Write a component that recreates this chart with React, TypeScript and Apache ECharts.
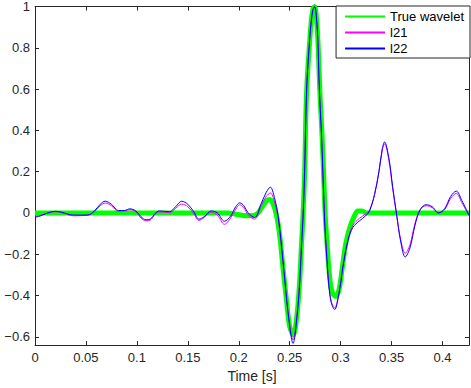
import React, { useEffect, useRef } from "react";
import * as echarts from "echarts";

// ---- Data ----
const xTicks = [0, 0.05, 0.1, 0.15, 0.2, 0.25, 0.3, 0.35, 0.4];
const yTicks = [-0.6, -0.4, -0.2, 0, 0.2, 0.4, 0.6, 0.8, 1];

const trueTimes = [
  0, 0.19, 0.196, 0.204, 0.212, 0.218, 0.223, 0.2275, 0.2305, 0.234, 0.237, 0.24,
  0.2435, 0.247, 0.25, 0.2535, 0.257, 0.2598, 0.2614, 0.263, 0.2647, 0.2657, 0.267,
  0.2696, 0.2712, 0.273, 0.2745, 0.2765, 0.278, 0.2795, 0.282, 0.2836, 0.285, 0.287,
  0.289, 0.2915, 0.295, 0.2985, 0.3015, 0.305, 0.309, 0.313, 0.317, 0.321, 0.325, 0.426,
];
const trueValues = [
  0, 0, -0.005, -0.012, -0.014, -0.005, 0.03, 0.06, 0.065, 0.04, -0.01, -0.1,
  -0.27, -0.43, -0.55, -0.59, -0.5, -0.33, -0.17, -0.02, 0.2, 0.44, 0.63,
  0.83, 0.93, 0.99, 1.0, 0.93, 0.8, 0.6, 0.35, 0.15, -0.02, -0.17,
  -0.3, -0.38, -0.405, -0.37, -0.27, -0.15, -0.07, -0.02, 0.01, 0.01, 0, 0,
];

const estTimes = [
  0.0, 0.005, 0.01, 0.015, 0.02, 0.026, 0.032, 0.038, 0.045, 0.052, 0.058, 0.064,
  0.069, 0.075, 0.082, 0.088, 0.093, 0.099, 0.104, 0.109, 0.113, 0.118, 0.122,
  0.127, 0.132, 0.138, 0.144, 0.15, 0.156, 0.161, 0.166, 0.173, 0.179, 0.186,
  0.192, 0.197, 0.201, 0.205, 0.209, 0.2155, 0.222, 0.227, 0.231, 0.235, 0.2385,
  0.242, 0.2455, 0.249, 0.2533, 0.2572, 0.2598, 0.2614, 0.263, 0.2645, 0.2657,
  0.267, 0.2696, 0.2712, 0.2728, 0.2745, 0.2762, 0.2777, 0.2788, 0.28, 0.2811,
  0.2822, 0.2833, 0.2846, 0.2866, 0.2885, 0.2909, 0.2941, 0.2984, 0.3013, 0.3033,
  0.3072, 0.312, 0.3186, 0.3245, 0.3284, 0.3333, 0.3376, 0.3409, 0.3431, 0.3474,
  0.351, 0.355, 0.359, 0.3634, 0.368, 0.373, 0.378, 0.384, 0.39, 0.396, 0.402,
  0.408, 0.4135, 0.419, 0.426,
];

const l21Values = [
  -0.015, -0.012, -0.004, 0.003, 0.006, 0.002, -0.008, -0.014, -0.013, -0.01, 0.005, 0.035,
  0.048, 0.035, 0.008, 0.01, 0.016, 0.005, -0.025, -0.038, -0.035, -0.006, 0.005,
  0.003, 0.002, 0.022, 0.043, 0.03, -0.005, -0.036, -0.022, 0.004, -0.01, -0.055,
  -0.025, 0.018, 0.04, 0.025, -0.008, -0.03, 0.035, 0.08, 0.097, 0.055, -0.02,
  -0.17, -0.34, -0.5, -0.615, -0.49, -0.33, -0.17, -0.02, 0.18, 0.44,
  0.64, 0.84, 0.93, 0.985, 0.995, 0.95, 0.83, 0.65, 0.51, 0.4,
  0.26, 0.1, -0.06, -0.22, -0.35, -0.43, -0.46, -0.385, -0.29, -0.225,
  -0.128, -0.06, -0.025, -0.005, 0.015, 0.09, 0.2, 0.305, 0.335, 0.255,
  0.12, -0.01, -0.13, -0.195, -0.155, -0.05, 0.015, 0.035, 0.025, 0.0, 0.015,
  0.07, 0.095, 0.05, -0.015,
];

const l22Values = [
  -0.02, -0.015, -0.004, 0.004, 0.008, 0.004, -0.005, -0.01, -0.01, -0.01, 0.008, 0.042,
  0.057, 0.042, 0.012, 0.012, 0.02, 0.01, -0.018, -0.033, -0.03, -0.002, 0.01,
  0.008, 0.006, 0.03, 0.057, 0.042, 0.005, -0.03, -0.018, 0.01, 0.0, -0.04,
  -0.015, 0.03, 0.049, 0.035, 0.002, -0.022, 0.045, 0.1, 0.125, 0.075, -0.01,
  -0.16, -0.34, -0.51, -0.632, -0.5, -0.34, -0.18, -0.03, 0.17, 0.43,
  0.64, 0.84, 0.93, 0.985, 1.0, 0.95, 0.83, 0.64, 0.5, 0.39,
  0.25, 0.09, -0.07, -0.23, -0.357, -0.436, -0.468, -0.39, -0.293, -0.23,
  -0.134, -0.07, -0.038, -0.014, 0.01, 0.089, 0.2, 0.312, 0.344, 0.264,
  0.13, -0.01, -0.14, -0.213, -0.17, -0.06, 0.015, 0.04, 0.03, 0.0, 0.02,
  0.08, 0.106, 0.06, -0.01,
];

const seriesNames = ["True wavelet", "l21", "l22"];

const pairs = (ts: number[], vs: number[]) => ts.map((t, i) => [t, vs[i]]);

const FONT = "Liberation Sans";
const AX = "#262626";

export default function App() {
  const ref = useRef<HTMLDivElement>(null);
  useEffect(() => {
    if (!ref.current) return;
    const chart = echarts.init(ref.current, undefined, { renderer: "svg" });
    const fmt = (v: number) => String(v).replace("-", "\u2212");
    const baseX = {
      type: "value" as const,
      min: 0,
      max: 0.426,
      splitLine: { show: false },
      axisLine: { show: true, onZero: false, lineStyle: { color: AX, width: 1 } },
      axisTick: { show: true, inside: true, length: 4, lineStyle: { color: AX }, customValues: xTicks },
    };
    const baseY = {
      type: "value" as const,
      min: -0.64,
      max: 1.0,
      splitLine: { show: false },
      axisLine: { show: true, onZero: false, lineStyle: { color: AX, width: 1 } },
      axisTick: { show: true, inside: true, length: 4, lineStyle: { color: AX }, customValues: yTicks },
    };
    chart.setOption({
      animation: false,
      backgroundColor: "#ffffff",
      grid: { left: 35, right: 2, top: 6, bottom: 39, containLabel: false },
      xAxis: [
        {
          ...baseX,
          position: "bottom",
          name: "Time [s]",
          nameLocation: "middle",
          nameGap: 23,
          nameTextStyle: { color: AX, fontFamily: FONT, fontSize: 14, verticalAlign: "top" },
          axisLabel: {
            show: true,
            margin: 6,
            color: AX,
            fontFamily: FONT,
            fontSize: 13,
            customValues: xTicks,
            formatter: (v: number) => fmt(v),
          },
        },
        { ...baseX, position: "top", axisLabel: { show: false } },
      ],
      yAxis: [
        {
          ...baseY,
          position: "left",
          axisLabel: {
            show: true,
            margin: 5,
            color: AX,
            fontFamily: FONT,
            fontSize: 13,
            customValues: yTicks,
            formatter: (v: number) => fmt(v),
          },
        },
        { ...baseY, position: "right", axisLabel: { show: false } },
      ],
      legend: {
        show: true,
        orient: "vertical",
        right: 1,
        top: 6,
        backgroundColor: "#ffffff",
        borderColor: AX,
        borderWidth: 1,
        borderRadius: 0,
        padding: [4, 6, 3, 8],
        itemGap: 3,
        itemWidth: 40,
        itemHeight: 13,
        itemStyle: { opacity: 0 },
        textStyle: { color: "#000000", fontFamily: FONT, fontSize: 13 },
        data: seriesNames,
      },
      series: [
        {
          name: seriesNames[0],
          type: "line",
          data: pairs(trueTimes, trueValues),
          showSymbol: false,
          symbol: "none",
          smooth: 0.35,
          lineStyle: { color: "#00ff00", width: 5 },
          itemStyle: { color: "#00ff00" },
          z: 2,
        },
        {
          name: seriesNames[1],
          type: "line",
          data: pairs(estTimes, l21Values),
          showSymbol: false,
          symbol: "none",
          smooth: 0.35,
          lineStyle: { color: "#ff00ff", width: 1 },
          itemStyle: { color: "#ff00ff" },
          z: 3,
        },
        {
          name: seriesNames[2],
          type: "line",
          data: pairs(estTimes, l22Values),
          showSymbol: false,
          symbol: "none",
          smooth: 0.35,
          lineStyle: { color: "#0000ff", width: 1 },
          itemStyle: { color: "#0000ff" },
          z: 4,
        },
      ],
    });
    return () => chart.dispose();
  }, []);
  return (
    <div
      ref={ref}
      style={{ position: "fixed", left: 0, top: 0, width: 471, height: 388, background: "#fff" }}
    />
  );
}
